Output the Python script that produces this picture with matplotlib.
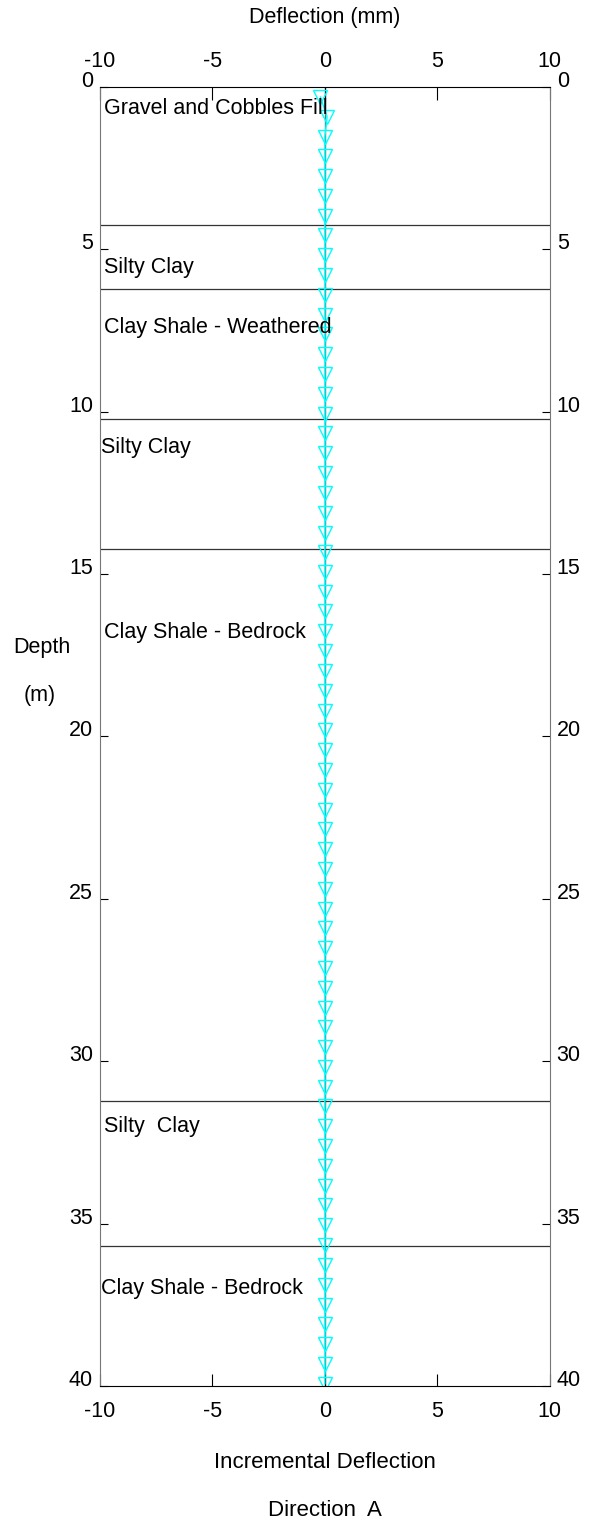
import matplotlib
matplotlib.use("Agg")
import matplotlib.pyplot as plt

plt.rcParams['font.family'] = ['Liberation Sans', 'DejaVu Sans']

# Inclinometer readings (depth in m, incremental deflection in mm)
depth = [0.31, 0.92, 1.53, 2.14, 2.75, 3.36, 3.97, 4.57, 5.18, 5.79,
         6.40, 7.01, 7.62, 8.23, 8.84, 9.45, 10.06, 10.67, 11.28, 11.89,
         12.50, 13.11, 13.72, 14.33, 14.94, 15.55, 16.15, 16.76, 17.37, 17.98,
         18.59, 19.20, 19.81, 20.42, 21.03, 21.64, 22.25, 22.86, 23.47, 24.08,
         24.69, 25.30, 25.91, 26.52, 27.13, 27.74, 28.35, 28.96, 29.57, 30.18,
         30.78, 31.39, 32.00, 32.61, 33.22, 33.83, 34.44, 35.05, 35.66, 36.27,
         36.88, 37.49, 38.10, 38.71, 39.32, 39.93]
deflection = [-0.2, 0.1, 0.0, 0.0, 0.0, 0.0, 0.0, 0.0, 0.0, 0.0,
              0.0, 0.0, 0.0, 0.0, 0.0, 0.0, 0.0, 0.0, 0.0, 0.0,
              0.0, 0.0, 0.0, 0.0, 0.0, 0.0, 0.0, 0.0, 0.0, 0.0,
              0.0, 0.0, 0.0, 0.0, 0.0, 0.0, 0.0, 0.0, 0.0, 0.0,
              0.0, 0.0, 0.0, 0.0, 0.0, 0.0, 0.0, 0.0, 0.0, 0.0,
              0.0, 0.0, 0.0, 0.0, 0.0, 0.0, 0.0, 0.0, 0.0, 0.0,
              0.0, 0.0, 0.0, 0.0, 0.0, 0.0]

# soil layers
layer_bounds = [4.25, 6.22, 10.22, 14.22, 31.23, 35.7]
layer_names = ["Gravel and Cobbles Fill", "Silty Clay", "Clay Shale - Weathered",
               "Silty Clay", "Clay Shale - Bedrock", "Silty  Clay", "Clay Shale - Bedrock"]
label_depth = [0.65, 5.57, 7.4, 11.1, 16.8, 32.0, 37.0]
label_x = [-9.8, -9.8, -9.8, -9.95, -9.8, -9.8, -9.95]

fs = 15.5

fig = plt.figure(figsize=(5.95, 15.39), dpi=100)
ax = fig.add_axes([0.168, 0.0994, 0.756, 0.8441])

ax.set_xlim(-10, 10)
ax.set_ylim(40, 0)

ax.axvline(0, color='#4a7a7a', lw=1.0, zorder=1)
for d in layer_bounds:
    ax.axhline(d, color='#333333', lw=0.9, zorder=1)
for name, d, x in zip(layer_names, label_depth, label_x):
    ax.text(x, d, name, fontsize=fs, va='center', ha='left', zorder=3)

ax.plot(deflection, depth, color='cyan', lw=1.0, marker='v', markersize=10,
        markerfacecolor='none', markeredgecolor='cyan', markeredgewidth=1.0, zorder=2)

ax.set_xticks([-10, -5, 0, 5, 10])
ax.set_xticklabels(['-10', '-5', '0', '5', '10'])
ax.set_yticks([0, 5, 10, 15, 20, 25, 30, 35, 40])
ax.tick_params(axis='x', direction='in', length=9, width=0.8, top=True, labeltop=True,
               bottom=True, labelbottom=True, labelsize=fs, pad=11)
ax.tick_params(axis='y', direction='in', length=6, width=0.8, left=True, right=True,
               labelleft=True, labelright=True, labelsize=fs, pad=5)
# top labels sit a bit closer than the bottom ones
for t in ax.xaxis.get_major_ticks():
    t.label2.set_y(1.0)
    t.set_pad(11)
ax.tick_params(axis='x', which='major', pad=11)
for lab in ax.get_yticklabels(which='both'):
    lab.set_verticalalignment('baseline')
for t in ax.yaxis.get_major_ticks():
    t.label1.set_verticalalignment('baseline')
    t.label2.set_verticalalignment('baseline')

for side in ['left', 'right']:
    ax.spines[side].set_color('#777777')
for side in ['top', 'bottom']:
    ax.spines[side].set_color('black')

fig.text(325 / 595, 1 - 18 / 1539, "Deflection (mm)", ha='center', va='center', fontsize=fs)
fig.text(42 / 595, 1 - 647 / 1539, "Depth", ha='center', va='center', fontsize=fs)
fig.text(40 / 595, 1 - 695 / 1539, "(m)", ha='center', va='center', fontsize=fs)
fig.text(325 / 595, 1 - 1462 / 1539, "Incremental Deflection", ha='center', va='center', fontsize=16)
fig.text(325 / 595, 1 - 1510 / 1539, "Direction  A", ha='center', va='center', fontsize=16)

fig.savefig("out.png", dpi=100)
